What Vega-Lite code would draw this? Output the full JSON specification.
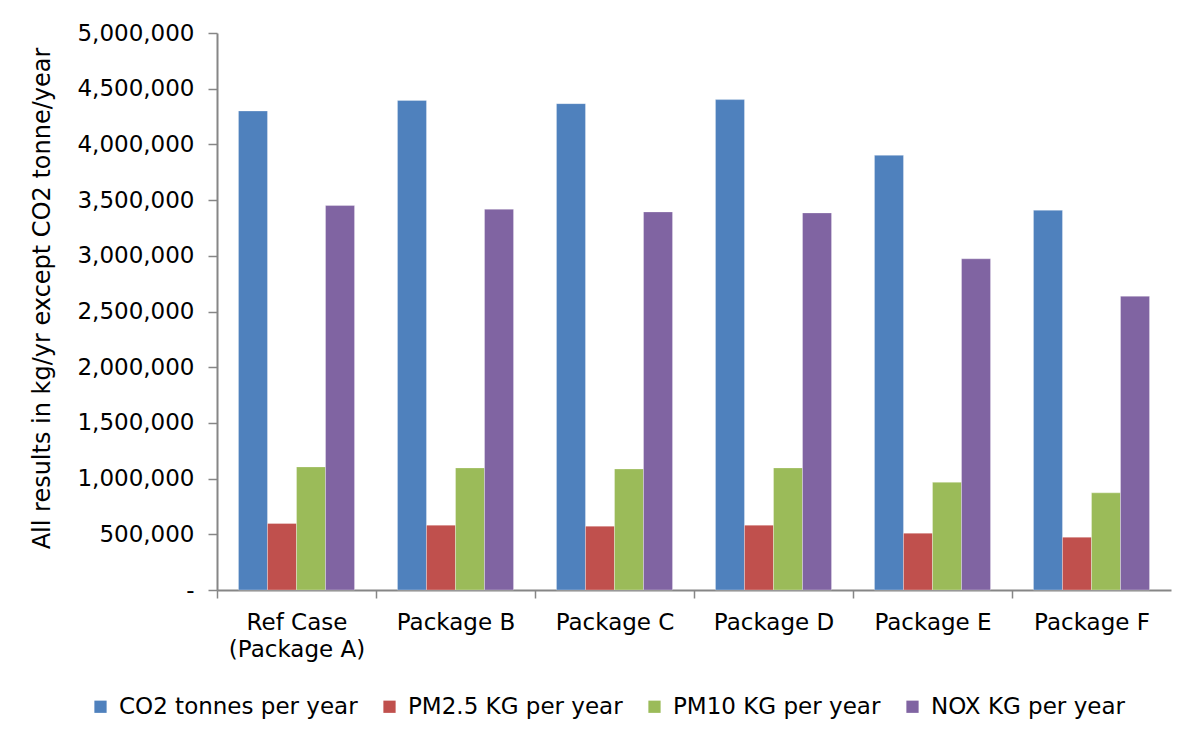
{
  "$schema": "https://vega.github.io/schema/vega-lite/v6.json",
  "width": 954,
  "height": 557,
  "autosize": {"type": "none"},
  "padding": {"left": 217, "top": 33, "right": 21, "bottom": 149},
  "background": "white",
  "config": {
    "view": {"stroke": null},
    "font": "DejaVu Sans"
  },
  "data": {
    "values": [
      {"package": "Ref Case (Package A)", "series": "CO2 tonnes per year", "value": 4300000},
      {"package": "Ref Case (Package A)", "series": "PM2.5 KG per year", "value": 597000},
      {"package": "Ref Case (Package A)", "series": "PM10 KG per year", "value": 1105000},
      {"package": "Ref Case (Package A)", "series": "NOX KG per year", "value": 3451000},
      {"package": "Package B", "series": "CO2 tonnes per year", "value": 4395000},
      {"package": "Package B", "series": "PM2.5 KG per year", "value": 582000},
      {"package": "Package B", "series": "PM10 KG per year", "value": 1096000},
      {"package": "Package B", "series": "NOX KG per year", "value": 3418000},
      {"package": "Package C", "series": "CO2 tonnes per year", "value": 4366000},
      {"package": "Package C", "series": "PM2.5 KG per year", "value": 573000},
      {"package": "Package C", "series": "PM10 KG per year", "value": 1087000},
      {"package": "Package C", "series": "NOX KG per year", "value": 3394000},
      {"package": "Package D", "series": "CO2 tonnes per year", "value": 4402000},
      {"package": "Package D", "series": "PM2.5 KG per year", "value": 582000},
      {"package": "Package D", "series": "PM10 KG per year", "value": 1096000},
      {"package": "Package D", "series": "NOX KG per year", "value": 3385000},
      {"package": "Package E", "series": "CO2 tonnes per year", "value": 3902000},
      {"package": "Package E", "series": "PM2.5 KG per year", "value": 510000},
      {"package": "Package E", "series": "PM10 KG per year", "value": 967000},
      {"package": "Package E", "series": "NOX KG per year", "value": 2973000},
      {"package": "Package F", "series": "CO2 tonnes per year", "value": 3409000},
      {"package": "Package F", "series": "PM2.5 KG per year", "value": 474000},
      {"package": "Package F", "series": "PM10 KG per year", "value": 872000},
      {"package": "Package F", "series": "NOX KG per year", "value": 2637000}
    ]
  },
  "mark": {"type": "bar", "stroke": "white", "strokeOpacity": 0.5, "strokeWidth": 0.6},
  "encoding": {
    "x": {
      "field": "package",
      "type": "nominal",
      "sort": null,
      "scale": {"paddingInner": 0.27, "paddingOuter": 0.135},
      "axis": {
        "title": null,
        "labelAngle": 0,
        "labelFont": "DejaVu Sans",
        "labelFontSize": 23,
        "labelColor": "black",
        "labelPadding": 13,
        "labelLineHeight": 27,
        "labelExpr": "datum.value == 'Ref Case (Package A)' ? ['Ref Case', '(Package A)'] : datum.label",
        "bandPosition": 0.5,
        "tickOffset": -79.5,
        "labelOffset": 79.5,
        "tickSize": 8,
        "tickColor": "#868686",
        "tickWidth": 1.5,
        "domainColor": "#868686",
        "domainWidth": 2,
        "labelLimit": 300
      }
    },
    "xOffset": {
      "field": "series",
      "type": "nominal",
      "sort": ["CO2 tonnes per year", "PM2.5 KG per year", "PM10 KG per year", "NOX KG per year"],
      "scale": {"paddingInner": 0, "paddingOuter": 0}
    },
    "y": {
      "field": "value",
      "type": "quantitative",
      "scale": {"domain": [0, 5000000], "nice": false},
      "axis": {
        "title": "All results in kg/yr except CO2 tonne/year",
        "titleFont": "DejaVu Sans",
        "titleFontSize": 24,
        "titleFontWeight": "normal",
        "titleColor": "black",
        "titleAngle": -90,
        "titleX": -175,
        "titleY": 265,
        "titleAlign": "center",
        "titleBaseline": "middle",
        "values": [0, 500000, 1000000, 1500000, 2000000, 2500000, 3000000, 3500000, 4000000, 4500000, 5000000],
        "labelExpr": "datum.value == 0 ? '-' : format(datum.value, ',d')",
        "labelFont": "DejaVu Sans",
        "labelFontSize": 23,
        "labelColor": "black",
        "labelPadding": 14,
        "tickSize": 9,
        "tickColor": "#868686",
        "tickWidth": 1.5,
        "domainColor": "#868686",
        "domainWidth": 2,
        "grid": false
      }
    },
    "color": {
      "field": "series",
      "type": "nominal",
      "scale": {
        "domain": ["CO2 tonnes per year", "PM2.5 KG per year", "PM10 KG per year", "NOX KG per year"],
        "range": ["#4F81BD", "#C0504D", "#9BBB59", "#8064A2"]
      },
      "legend": {
        "title": null,
        "orient": "none",
        "legendX": -128,
        "legendY": 662,
        "direction": "horizontal",
        "columns": 4,
        "symbolType": "square",
        "symbolSize": 150,
        "symbolStrokeWidth": 0,
        "labelFont": "DejaVu Sans",
        "labelFontSize": 23,
        "labelColor": "black",
        "labelOffset": 7,
        "columnPadding": 20,
        "labelLimit": 400
      }
    }
  }
}
